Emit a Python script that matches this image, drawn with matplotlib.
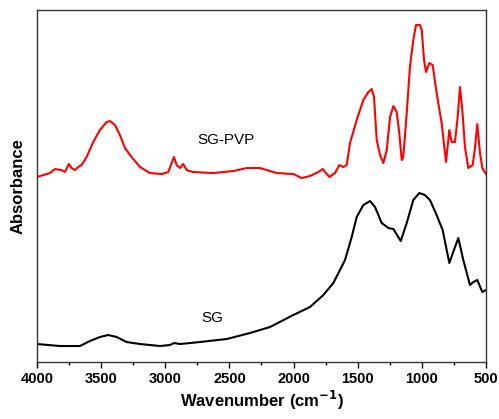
import matplotlib
matplotlib.use("Agg")
import matplotlib.pyplot as plt
from matplotlib.ticker import MultipleLocator

plt.rcParams.update({
    "font.family": ["Liberation Sans", "DejaVu Sans"],
    "axes.linewidth": 1.0,
})

# SG-PVP spectrum (wavenumber cm-1, absorbance a.u.)
pvp_wn = [4000, 3899, 3860, 3808, 3782, 3751, 3730, 3704, 3678, 3652, 3613, 3561,
          3509, 3457, 3431, 3392, 3353, 3314, 3262, 3197, 3119, 3028, 2976, 2950,
          2932, 2911, 2885, 2860, 2833, 2782, 2626, 2470, 2365, 2262, 2131, 2002,
          1937, 1872, 1807, 1773, 1747, 1721, 1677, 1643, 1612, 1586, 1560, 1508,
          1456, 1417, 1391, 1373, 1352, 1326, 1300, 1274, 1248, 1222, 1196, 1176,
          1157, 1145, 1118, 1093, 1067, 1046, 1015, 1001, 983, 968, 942, 916,
          885, 846, 812, 786, 768, 742, 721, 703, 685, 664, 638, 604, 586, 568,
          547, 529, 500]
pvp_abs = [185, 189, 193, 192, 190, 198, 194, 192, 195, 197, 205, 220,
           232, 240, 241, 237, 227, 214, 205, 195, 189, 188, 190, 199,
           205, 197, 194, 198, 192, 190, 189, 191, 194, 194, 189, 188,
           184, 186, 190, 193, 189, 185, 189, 197, 195, 197, 219, 242,
           262, 270, 273, 265, 222, 207, 199, 212, 245, 256, 250, 229,
           202, 205, 249, 295, 322, 337, 337, 332, 302, 290, 299, 297,
           269, 239, 200, 232, 220, 220, 245, 275, 252, 215, 194, 197, 214, 238,
           209, 194, 188]

# SG spectrum
sg_wn = [4000, 3821, 3665, 3587, 3509, 3444, 3379, 3301, 3197, 3041, 2963, 2932,
         2885, 2729, 2521, 2340, 2184, 2002, 1872, 1768, 1690, 1599, 1547, 1508,
         1456, 1404, 1365, 1313, 1261, 1222, 1165, 1118, 1067, 1020, 976, 937,
         885, 838, 786, 750, 716, 677, 625, 599, 568, 529, 500]
sg_abs = [18, 16, 16, 21, 25, 27, 25, 20, 18, 16, 17, 19,
          18, 20, 23, 29, 35, 47, 55, 67, 79, 102, 125, 145,
          157, 161, 155, 139, 134, 133, 121, 139, 162, 169, 167, 162,
          147, 132, 99, 112, 124, 102, 77, 80, 82, 70, 72]

fig, ax = plt.subplots(figsize=(4.99, 4.19), dpi=100)
fig.subplots_adjust(left=0.074, right=0.974, bottom=0.136, top=0.976)

ax.plot(pvp_wn, pvp_abs, color="red", lw=1.5)
ax.plot(sg_wn, sg_abs, color="black", lw=1.5)

ax.text(2527, 222, "SG-PVP", fontsize=11, ha="center", va="center")
ax.text(2632, 44, "SG", fontsize=11, ha="center", va="center")

ax.set_xlim(4000, 500)
ax.set_ylim(0, 352)
ax.xaxis.set_major_locator(MultipleLocator(500))
ax.xaxis.set_minor_locator(MultipleLocator(250))
ax.tick_params(axis="x", which="major", direction="out", length=4, width=1,
               labelsize=10.5, top=False)
ax.tick_params(axis="x", which="minor", direction="out", length=2.5, width=1, top=False)
for lab in ax.get_xticklabels():
    lab.set_fontweight("bold")
ax.set_yticks([])
for sp in ax.spines.values():
    sp.set_color("#333333")

ax.set_xlabel("Wavenumber (cm$^{\\mathbf{-1}}$)", fontsize=12, fontweight="bold", labelpad=2)
ax.set_ylabel("Absorbance", fontsize=12, fontweight="bold", labelpad=8)

fig.savefig("out.png", dpi=100)
